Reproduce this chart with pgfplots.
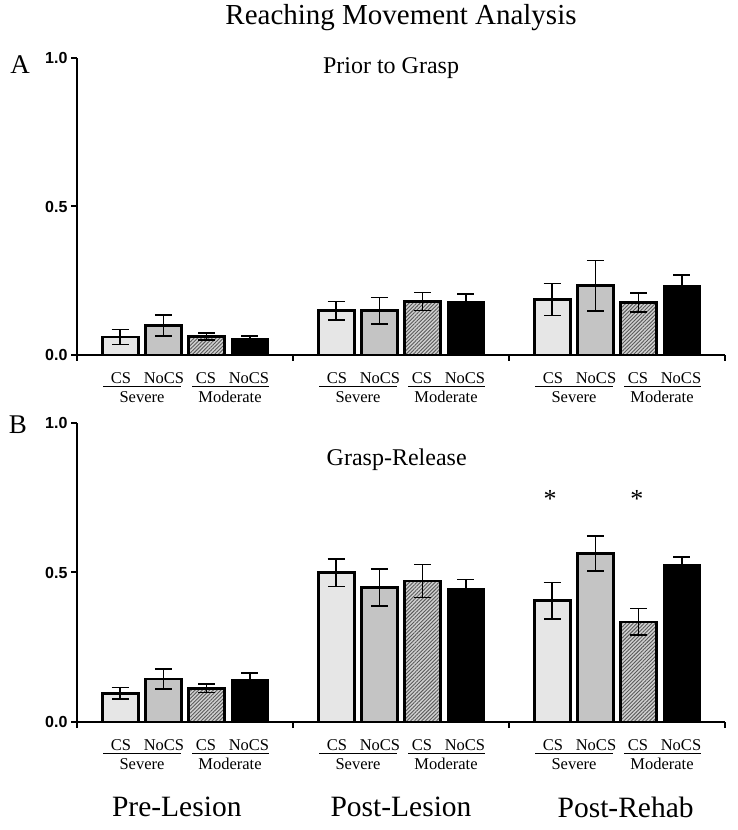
\documentclass[border=0pt]{standalone}
\usepackage{fontspec}
\setmainfont{Liberation Serif}
\setsansfont{Liberation Sans}
\usepackage{pgfplots}
\pgfplotsset{compat=1.18}
\usetikzlibrary{patterns.meta}
\definecolor{barA}{HTML}{E6E6E6}
\definecolor{barB}{HTML}{C4C4C4}
\definecolor{barC}{HTML}{D0D0D0}
\pgfplotsset{
  panel/.style={
    scale only axis, width=648pt, xmin=0, xmax=15, ymin=0, ymax=1,
    axis lines*=left, axis line style={line width=2.5pt},
    xtick={0,5,10,15}, xticklabels={}, ytick={0,0.5,1},
    yticklabel style={font=\sffamily\bfseries\fontsize{16}{18}\selectfont,
      /pgf/number format/assume math mode=true,
      /pgf/number format/fixed, /pgf/number format/fixed zerofill,
      /pgf/number format/precision=1},
    tick align=outside, major tick length=6pt, tick style={line width=2pt, black},
    ybar, bar width=36pt, bar shift=0pt, clip=false,
    error bars/y dir=both, error bars/y explicit,
    error bars/error bar style={line width=1.6pt, black},
    error bars/error mark options={rotate=90, line width=1.6pt, black, mark size=8.5pt},
  },
  sA/.style={draw=black, line width=2.6pt, fill=barA},
  sB/.style={draw=black, line width=2.6pt, fill=barB},
  sC/.style={draw=black, line width=2.6pt, fill=barC, postaction={pattern={Lines[angle=45, distance=2.6pt, line width=0.9pt]}, pattern color=black!65}},
  sD/.style={draw=black, line width=2.6pt, fill=black},
}
\newcommand\glabels[1]{%
  \node[font=\fontsize{16.5}{18}\selectfont, inner sep=0pt] at ([xshift=44pt,yshift=-23pt]axis cs:#1,0) {CS};
  \node[font=\fontsize{16.5}{18}\selectfont, inner sep=0pt] at ([xshift=87pt,yshift=-23pt]axis cs:#1,0) {NoCS};
  \node[font=\fontsize{16.5}{18}\selectfont, inner sep=0pt] at ([xshift=129pt,yshift=-23pt]axis cs:#1,0) {CS};
  \node[font=\fontsize{16.5}{18}\selectfont, inner sep=0pt] at ([xshift=172pt,yshift=-23pt]axis cs:#1,0) {NoCS};
  \draw[line width=0.8pt] ([xshift=26pt,yshift=-31pt]axis cs:#1,0) -- ++(78pt,0);
  \draw[line width=0.8pt] ([xshift=115pt,yshift=-31pt]axis cs:#1,0) -- ++(77pt,0);
  \node[font=\fontsize{16.5}{18}\selectfont, inner sep=0pt] at ([xshift=65pt,yshift=-42pt]axis cs:#1,0) {Severe};
  \node[font=\fontsize{16.5}{18}\selectfont, inner sep=0pt] at ([xshift=153pt,yshift=-42pt]axis cs:#1,0) {Moderate};
}
\begin{document}
\begin{tikzpicture}
\path[use as bounding box] (0,0) rectangle (737pt,830pt);
\node[font=\fontsize{29}{32}\selectfont] at (401pt,812pt) {Reaching Movement Analysis};
\node[font=\fontsize{27}{30}\selectfont] at (20pt,765pt) {A};
\node[font=\fontsize{27}{30}\selectfont] at (18pt,405pt) {B};
% Panel A
\begin{axis}[panel, height=297pt, at={(77pt,475pt)}, anchor=south west]
\addplot[sA] coordinates {(1,0.061) +- (0,0.025) (6,0.149) +- (0,0.031) (11,0.187) +- (0,0.054)};
\addplot[sB] coordinates {(2,0.099) +- (0,0.036) (7,0.149) +- (0,0.044) (12,0.233) +- (0,0.085)};
\addplot[sC] coordinates {(3,0.062) +- (0,0.012) (8,0.180) +- (0,0.030) (13,0.177) +- (0,0.032)};
\addplot[sD] coordinates {(4,0.053) +- (0,0.011) (9,0.177) +- (0,0.028) (14,0.230) +- (0,0.040)};
\node[font=\fontsize{24}{26}\selectfont] at (axis cs:7.27,0.966) {Prior to Grasp};
\glabels{0}\glabels{5}\glabels{10}
\end{axis}
% Panel B
\begin{axis}[panel, height=299pt, at={(77pt,108pt)}, anchor=south west]
\addplot[sA] coordinates {(1,0.096) +- (0,0.020) (6,0.499) +- (0,0.046) (11,0.406) +- (0,0.061)};
\addplot[sB] coordinates {(2,0.144) +- (0,0.033) (7,0.450) +- (0,0.062) (12,0.564) +- (0,0.059)};
\addplot[sC] coordinates {(3,0.113) +- (0,0.015) (8,0.472) +- (0,0.055) (13,0.335) +- (0,0.045)};
\addplot[sD] coordinates {(4,0.140) +- (0,0.023) (9,0.445) +- (0,0.032) (14,0.523) +- (0,0.028)};
\node[font=\fontsize{24}{26}\selectfont] at (axis cs:7.4,0.876) {Grasp-Release};
\node[font=\fontsize{26}{28}\selectfont] at (axis cs:10.95,0.745) {*};
\node[font=\fontsize{26}{28}\selectfont] at (axis cs:12.96,0.745) {*};
\glabels{0}\glabels{5}\glabels{10}
\node[font=\fontsize{29.5}{32}\selectfont] at ([yshift=-85pt]axis cs:2.31,0) {Pre-Lesion};
\node[font=\fontsize{29.5}{32}\selectfont] at ([yshift=-85pt]axis cs:7.5,0) {Post-Lesion};
\node[font=\fontsize{29.5}{32}\selectfont] at ([yshift=-85pt]axis cs:12.7,0) {Post-Rehab};
\end{axis}
\end{tikzpicture}
\end{document}
